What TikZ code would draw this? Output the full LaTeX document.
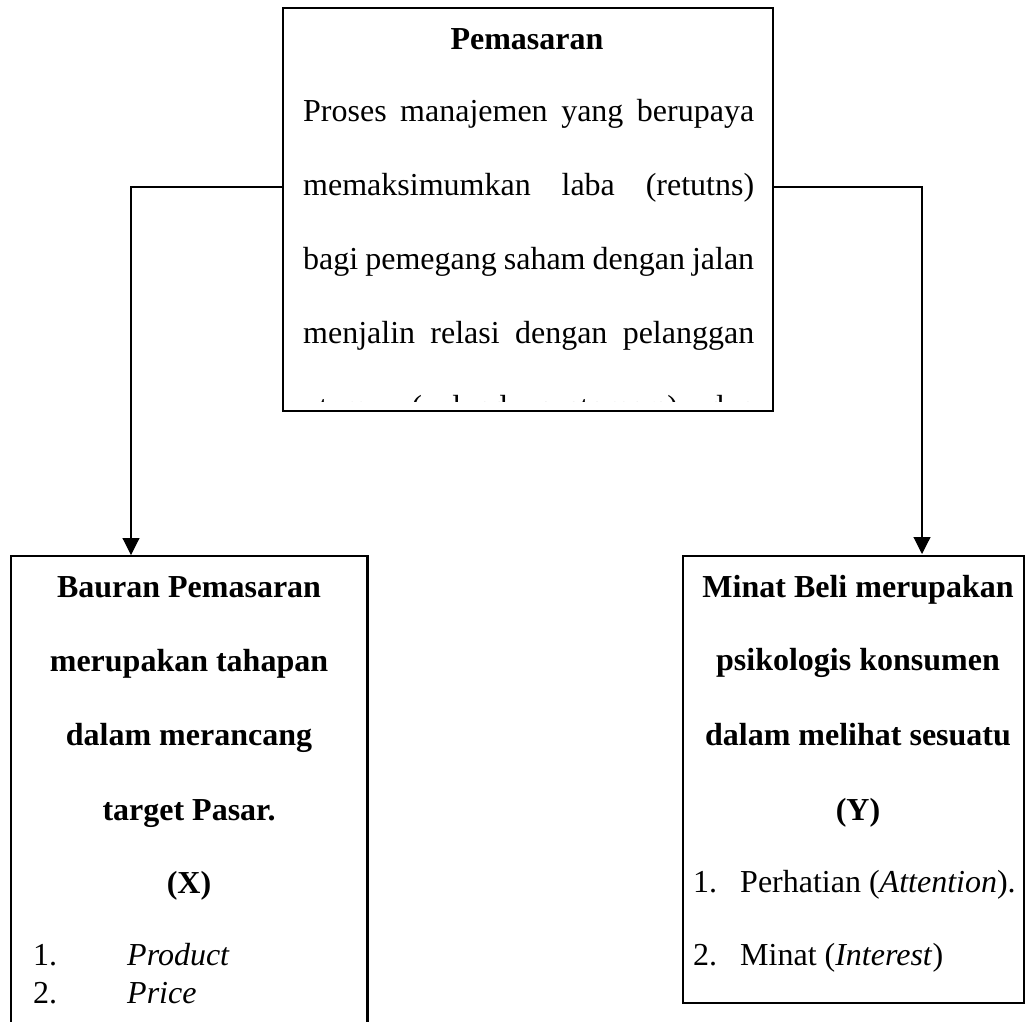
\documentclass[tikz,border=0pt]{standalone}
\usepackage{fontspec}
\setmainfont{Liberation Serif}
\usetikzlibrary{arrows.meta}
\begin{document}
\begin{tikzpicture}[x=1pt,y=-1pt,
  boxline/.style={line width=2.4pt},
  conn/.style={line width=1.1pt},
  arr/.style={conn,-{Triangle[length=17pt,width=17pt]}},
  txt/.style={inner sep=0pt,font=\fontsize{32}{38}\selectfont},
  btxt/.style={txt,font=\fontsize{32}{38}\selectfont\bfseries,anchor=base},
  ltxt/.style={txt,anchor=base west}]
\useasboundingbox (0,0) rectangle (1027,1021);
% top box
\node[boxline,draw,minimum width=490pt,minimum height=403pt,anchor=north west,inner sep=0pt] (top) at (282,7) {};
\node[btxt] (t0) at (527,49) {Pemasaran};
\node[ltxt] (t1) at (303,121) {\makebox[451pt][s]{Proses manajemen yang berupaya}};
\node[ltxt] (t2) at (303,195) {\makebox[451pt][s]{memaksimumkan laba (retutns)}};
\node[ltxt] (t3) at (303,269) {\makebox[451pt][s]{bagi pemegang saham dengan jalan}};
\node[ltxt] (t4) at (303,343) {\makebox[451pt][s]{menjalin relasi dengan pelanggan}};
\begin{scope}
\clip (283,380) rectangle (771,401);
\node[ltxt] (t5) at (303,417) {\makebox[451pt][s]{utama (valued customers) dan}};
\end{scope}
% left box (open bottom)
\node[minimum width=356pt,minimum height=480pt,anchor=north west,inner sep=0pt] (lbox) at (11,556) {};
\draw[boxline] (lbox.south west) -- (lbox.north west) -- (lbox.north east) -- (lbox.south east);
\node[btxt] (l1) at (189,597) {Bauran Pemasaran};
\node[btxt] (l2) at (189,671) {merupakan tahapan};
\node[btxt] (l3) at (189,745) {dalam merancang};
\node[btxt] (l4) at (189,820) {target Pasar.};
\node[btxt] (l5) at (189,893) {(X)};
\node[ltxt] (l6a) at (33,965) {1.};
\node[ltxt] (l6b) at (127,965) {\textit{Product}};
\node[ltxt] (l7a) at (33,1003) {2.};
\node[ltxt] (l7b) at (127,1003) {\textit{Price}};
% right box
\node[boxline,draw,minimum width=341pt,minimum height=447pt,anchor=north west,inner sep=0pt] (rbox) at (682,555) {};
\node[btxt] (r1) at (858,597) {Minat Beli merupakan};
\node[btxt] (r2) at (858,670) {psikologis konsumen};
\node[btxt] (r3) at (858,745) {dalam melihat sesuatu};
\node[btxt] (r4) at (858,820) {(Y)};
\node[ltxt] (r5a) at (693,892) {1.};
\node[ltxt] (r5b) at (740,892) {Perhatian (\textit{Attention}).};
\node[ltxt] (r6a) at (693,965) {2.};
\node[ltxt] (r6b) at (740,965) {Minat (\textit{Interest})};
% connectors
\coordinate (lj) at (282,187);
\coordinate (la) at (131,555);
\coordinate (rj) at (772,187);
\coordinate (ra) at (922,554);
\draw[arr] (lj) -| (la);
\draw[arr] (rj) -| (ra);
\end{tikzpicture}
\end{document}
